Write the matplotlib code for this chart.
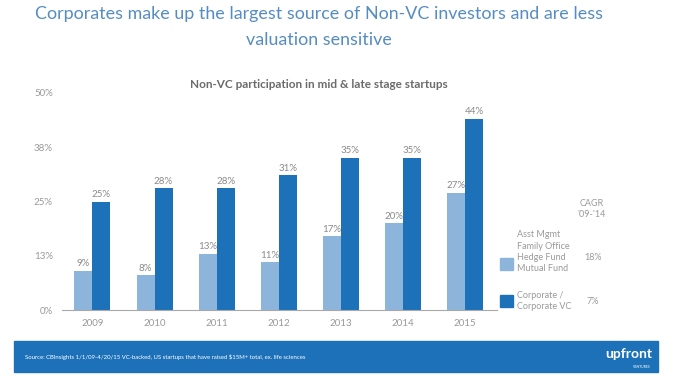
import matplotlib
matplotlib.use("Agg")
import matplotlib.pyplot as plt
import numpy as np
from matplotlib.patches import Rectangle

years = ["2009", "2010", "2011", "2012", "2013", "2014", "2015"]
other_investors = [9, 8, 13, 11, 17, 20, 27]    # Asst Mgmt / Family Office / Hedge / Mutual
corporate_vc = [25, 28, 28, 31, 35, 35, 44]
y_ticks = [0, 12.5, 25, 37.5, 50]
y_tick_labels = ["0%", "13%", "25%", "38%", "50%"]
cagr = ["18%", "7%"]

LIGHT = "#8DB5DB"
DARK = "#1D71B8"
GREY = "#9A9A9A"
TITLE_BLUE = "#558CC2"

plt.rcParams["font.family"] = ["Lato", "DejaVu Sans"]

fig = plt.figure(figsize=(6.74, 3.82), dpi=100)
ax = fig.add_axes([0.092, 0.188, 0.645, 0.569])

x = np.arange(len(years))
w = 0.29
b1 = ax.bar(x - w / 2, other_investors, w, color=LIGHT, zorder=2)
b2 = ax.bar(x + w / 2, corporate_vc, w, color=DARK, zorder=2)
for bars, vals in ((b1, other_investors), (b2, corporate_vc)):
    for r, v in zip(bars, vals):
        ax.text(r.get_x() + r.get_width() / 2, v + 0.6, f"{v}%",
                ha="center", va="bottom", fontsize=7, color="#8A8A8A")

ax.set_xlim(-0.49, 6.51)
ax.set_ylim(0, 50)
ax.set_xticks(x)
ax.set_xticklabels(years)
ax.set_yticks(y_ticks)
ax.set_yticklabels(y_tick_labels)
ax.tick_params(length=0, labelsize=7, colors="#999999", pad=6)
ax.tick_params(axis="y", pad=6.5)
for s in ("left", "top", "right"):
    ax.spines[s].set_visible(False)
ax.spines["bottom"].set_color("#A8A8A8")
ax.spines["bottom"].set_linewidth(0.8)

fig.text(0.473, 0.983, "Corporates make up the largest source of Non-VC investors and are less\nvaluation sensitive",
         ha="center", va="top", fontsize=12.9, color=TITLE_BLUE, linespacing=1.75)
fig.text(0.473, 0.78, "Non-VC participation in mid & late stage startups",
         ha="center", va="center", fontsize=8.5, color="#6B6B6B", fontweight="bold")

# legend block
fig.text(0.878, 0.453, "CAGR\n'09-'14", ha="center", va="center", fontsize=6.5, color=GREY, linespacing=1.4)
fig.patches.append(Rectangle((0.742, 0.293), 0.019, 0.031, transform=fig.transFigure, color=LIGHT))
fig.patches.append(Rectangle((0.742, 0.196), 0.019, 0.031, transform=fig.transFigure, color=DARK))
fig.text(0.767, 0.341, "Asst Mgmt\nFamily Office\nHedge Fund\nMutual Fund", ha="left", va="center",
         fontsize=6.5, color=GREY, linespacing=1.35)
fig.text(0.767, 0.212, "Corporate /\nCorporate VC", ha="left", va="center",
         fontsize=6.5, color=GREY, linespacing=1.35)
fig.text(0.88, 0.325, cagr[0], ha="center", va="center", fontsize=6.5, color=GREY)
fig.text(0.88, 0.212, cagr[1], ha="center", va="center", fontsize=6.5, color=GREY)

# footer band
fig.patches.append(Rectangle((0.021, 0.026), 0.955, 0.081, transform=fig.transFigure, color=DARK))
fig.text(0.037, 0.066, "Source: CBInsights 1/1/09-4/20/15 VC-backed, US startups that have raised $15M+ total, ex. life sciences",
         ha="left", va="center", fontsize=4.3, color="white")
fig.text(0.968, 0.072, "upfront", ha="right", va="center", fontsize=10, color="white", fontweight="bold")
fig.text(0.966, 0.04, "VENTURES", ha="right", va="center", fontsize=2.5, color="white")

fig.savefig("out.png", dpi=100)
